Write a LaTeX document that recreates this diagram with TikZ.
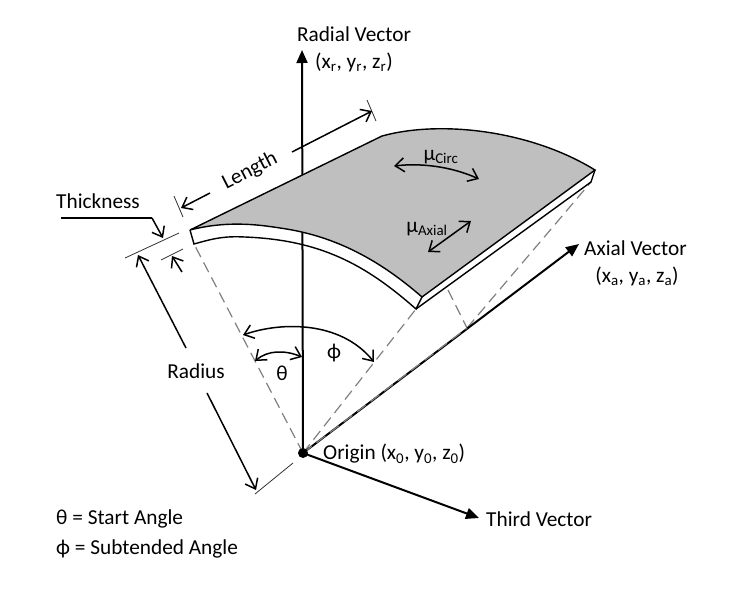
\documentclass[tikz,border=0pt]{standalone}
\usepackage{fontspec}
\setmainfont{Carlito}
\usetikzlibrary{arrows.meta}
\tikzset{
  label/.style={inner sep=0pt,font=\fontsize{21.3}{25}\selectfont},
  openarrow/.style={line width=1.5pt,{Straight Barb[length=9pt,width=14pt]}-{Straight Barb[length=9pt,width=14pt]}},
  onearrow/.style={line width=1.5pt,-{Straight Barb[length=9pt,width=14pt]}},
  axis/.style={line width=2pt,-{Triangle[length=13pt,width=11pt]}},
  hidden/.style={gray,line width=1.2pt,dash pattern=on 11pt off 6pt},
  tick/.style={line width=0.8pt,black!80},
  edge/.style={line width=1.4pt}
}
\begin{document}
\begin{tikzpicture}[x=1pt,y=-1pt]
  \useasboundingbox (0,0) rectangle (738,595);
  % plate corners
  \coordinate (a) at (190,230);
  \coordinate (b) at (382,136);
  \coordinate (c) at (595,170);
  \coordinate (d) at (422,297);
  \coordinate (e) at (416,309);
  \coordinate (f) at (194,244);
  \coordinate (g) at (591,182);
  % axes
  \coordinate (origin) at (303,453);
  \coordinate (radialtip) at (302,50);
  \coordinate (axialtip) at (579,244);
  \coordinate (thirdtip) at (479,518);
  \coordinate (axialfoot) at (467,328);
  \coordinate (axialedge) at (448,290);

  \draw[hidden] (origin) -- (f);
  \draw[hidden] (origin) -- (e);
  \draw[hidden] (axialfoot) -- (g);
  \draw[hidden] (axialedge) -- (axialfoot);

  \draw[axis] (origin) -- (radialtip);
  \draw[axis] (origin) -- (axialtip);
  \draw[axis] (origin) -- (thirdtip);
  \draw[hidden] (origin) -- (axialfoot);
  \fill (origin) circle (5);

  \draw[edge,fill=black!25] (a) -- (b) .. controls (440,120) and (530,130) .. (c)
    -- (d) .. controls (375,256) and (330,235) .. (280,228)
    .. controls (255,224) and (225,221) .. (a);
  \draw[edge] (a) -- (f) .. controls (215,238) and (225,236) .. (245,237)
    .. controls (320,240) and (365,264) .. (e) -- (d);
  \draw[edge] (e) -- (g) -- (c);

  % dimension lines
  \foreach \p/\q/\r/\s in {174/196/183/217,367/100/376/121,125/258/179/233,161/260/183/249,255/494/293/463}
    \draw[tick] (\p,\q) -- (\r,\s);
  \coordinate (lenstart) at (210,193);
  \coordinate (lenend) at (292,152);
  \coordinate (radstart) at (186,348);
  \coordinate (radend) at (207,393);
  \coordinate (thick) at (152,218);
  \draw[onearrow] (lenstart) -- (181,208);
  \draw[onearrow] (lenend) -- (372,111);
  \draw[onearrow] (radstart) -- (138,255);
  \draw[onearrow] (radend) -- (256,490);
  \draw[line width=1.2pt] (61,218) -- (thick);
  \draw[onearrow] (thick) -- (163,238);
  \draw[onearrow] (182,272) -- (172,256);

  % angles and directions
  \draw[openarrow] (243,335) .. controls (280,322) and (340,320) .. (374,362);
  \draw[openarrow] (255,361) .. controls (268,350) and (285,350) .. (302,357);
  \draw[openarrow] (394,166) .. controls (420,163) and (450,166) .. (479,179);
  \draw[openarrow] (428,252) -- (471,221);

  \node[label,anchor=center] (radial) at (354,34) {Radial Vector};
  \node[label,anchor=center] (radialxyz) at (354,62) {(x\textsubscript{r}, y\textsubscript{r}, z\textsubscript{r})};
  \node[label,anchor=center,rotate=27] (length) at (250,171) {Length};
  \node[label,anchor=west] (thickness) at (56,201) {Thickness};
  \node[label,anchor=center] (radius) at (196,371) {Radius};
  \node[label,anchor=center] (thetalabel) at (282,373) {θ};
  \node[label,anchor=center] (philabel) at (334,353) {ϕ};
  \node[label,anchor=center] (circ) at (441,157) {μ\textsubscript{Circ}};
  \node[label,anchor=center] (axial) at (427,229) {μ\textsubscript{Axial}};
  \node[label,anchor=west] (axialname) at (584,248) {Axial Vector};
  \node[label,anchor=center] (axialxyz) at (637,276) {(x\textsubscript{a}, y\textsubscript{a}, z\textsubscript{a})};
  \node[label,anchor=west] (originname) at (323,454) {Origin (x\textsubscript{0}, y\textsubscript{0}, z\textsubscript{0})};
  \node[label,anchor=west] (thirdname) at (486,519) {Third Vector};
  \node[label,anchor=west] (startangle) at (56,519) {θ = Start Angle};
  \node[label,anchor=west] (subangle) at (56,549) {ϕ = Subtended Angle};
\end{tikzpicture}
\end{document}
